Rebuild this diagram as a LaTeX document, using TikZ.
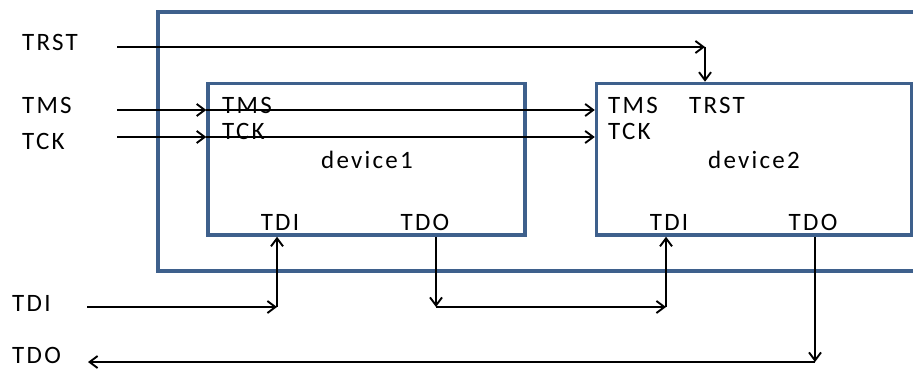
\documentclass[tikz,border=0pt]{standalone}
\usepackage{fontspec}
\setmainfont{Carlito}
\newfontfamily\lblfont[LetterSpace=9]{Carlito}
\usetikzlibrary{arrows.meta}
\definecolor{boxblue}{RGB}{62,96,140}
\tikzset{
  outerbox/.style={draw=boxblue, line width=4pt, inner sep=0pt},
  devbox/.style={draw=boxblue, line width=3.5pt, inner sep=0pt},
  lbl/.style={inner sep=0pt, font=\lblfont\fontsize{25}{25}\selectfont},
  sig/.style={draw=black, line width=1.9pt, -{Straight Barb[length=8pt,width=12pt,line width=1.9pt]}}
}
\begin{document}
\begin{tikzpicture}[x=1pt,y=-1pt]
\useasboundingbox (0,0) rectangle (913,369);
\clip (0,0) rectangle (913,369);
% boxes
\node[outerbox, minimum width=772pt, minimum height=259pt] (outer) at (544,141.5) {};
\node[devbox, minimum width=317pt, minimum height=151.5pt] (dev1) at (366.5,159.25) {};
\node[devbox, minimum width=315pt, minimum height=151.5pt] (dev2) at (754,159.25) {};
% outside labels
\node[lbl, anchor=west] (lTRST) at (22,42) {TRST};
\node[lbl, anchor=west] (lTMS) at (22,105) {TMS};
\node[lbl, anchor=west] (lTCK) at (22,141) {TCK};
\node[lbl, anchor=west] (lTDI) at (12,303) {TDI};
\node[lbl, anchor=west] (lTDO) at (12,355.5) {TDO};
% device1 labels
\node[lbl, anchor=west] (d1TMS) at (222,105) {TMS};
\node[lbl, anchor=west] (d1TCK) at (222,131) {TCK};
\node[lbl] (d1name) at (367,160) {device1};
\node[lbl] (d1TDI) at (280,222) {TDI};
\node[lbl] (d1TDO) at (425,222) {TDO};
% device2 labels
\node[lbl, anchor=west] (d2TMS) at (608,105) {TMS};
\node[lbl, anchor=west] (d2TRST) at (689,105) {TRST};
\node[lbl, anchor=west] (d2TCK) at (608,131) {TCK};
\node[lbl] (d2name) at (754,160) {device2};
\node[lbl] (d2TDI) at (669,222) {TDI};
\node[lbl] (d2TDO) at (813,222) {TDO};
% connector points
\coordinate (trstA) at (117,47);
\coordinate (trstB) at (705,47);
\coordinate (tmsA) at (117,110);
\coordinate (tckA) at (117,137);
\coordinate (tdiA) at (87,307);
\coordinate (tdiB) at (277,307);
\coordinate (d1oA) at (436,307);
\coordinate (d1oB) at (666,307);
\coordinate (d2oA) at (815,362);
\coordinate (tdoE) at (88,362);
% connectors
\draw[sig] (trstA) -- (trstB);
\draw[sig] (trstB) -- (trstB |- dev2.north);
\draw[sig] (tmsA) -- (tmsA -| dev1.west);
\draw[sig] (tmsA -| dev1.west) -- (tmsA -| dev2.west);
\draw[sig] (tckA) -- (tckA -| dev1.west);
\draw[sig] (tckA -| dev1.west) -- (tckA -| dev2.west);
\draw[sig] (tdiA) -- (tdiB);
\draw[sig] (tdiB) -- (tdiB |- dev1.south);
\draw[sig] (d1oA |- dev1.south) -- (d1oA);
\draw[sig] (d1oA) -- (d1oB);
\draw[sig] (d1oB) -- (d1oB |- dev2.south);
\draw[sig] (d2oA |- dev2.south) -- (d2oA);
\draw[sig] (d2oA) -- (tdoE);
\end{tikzpicture}
\end{document}
